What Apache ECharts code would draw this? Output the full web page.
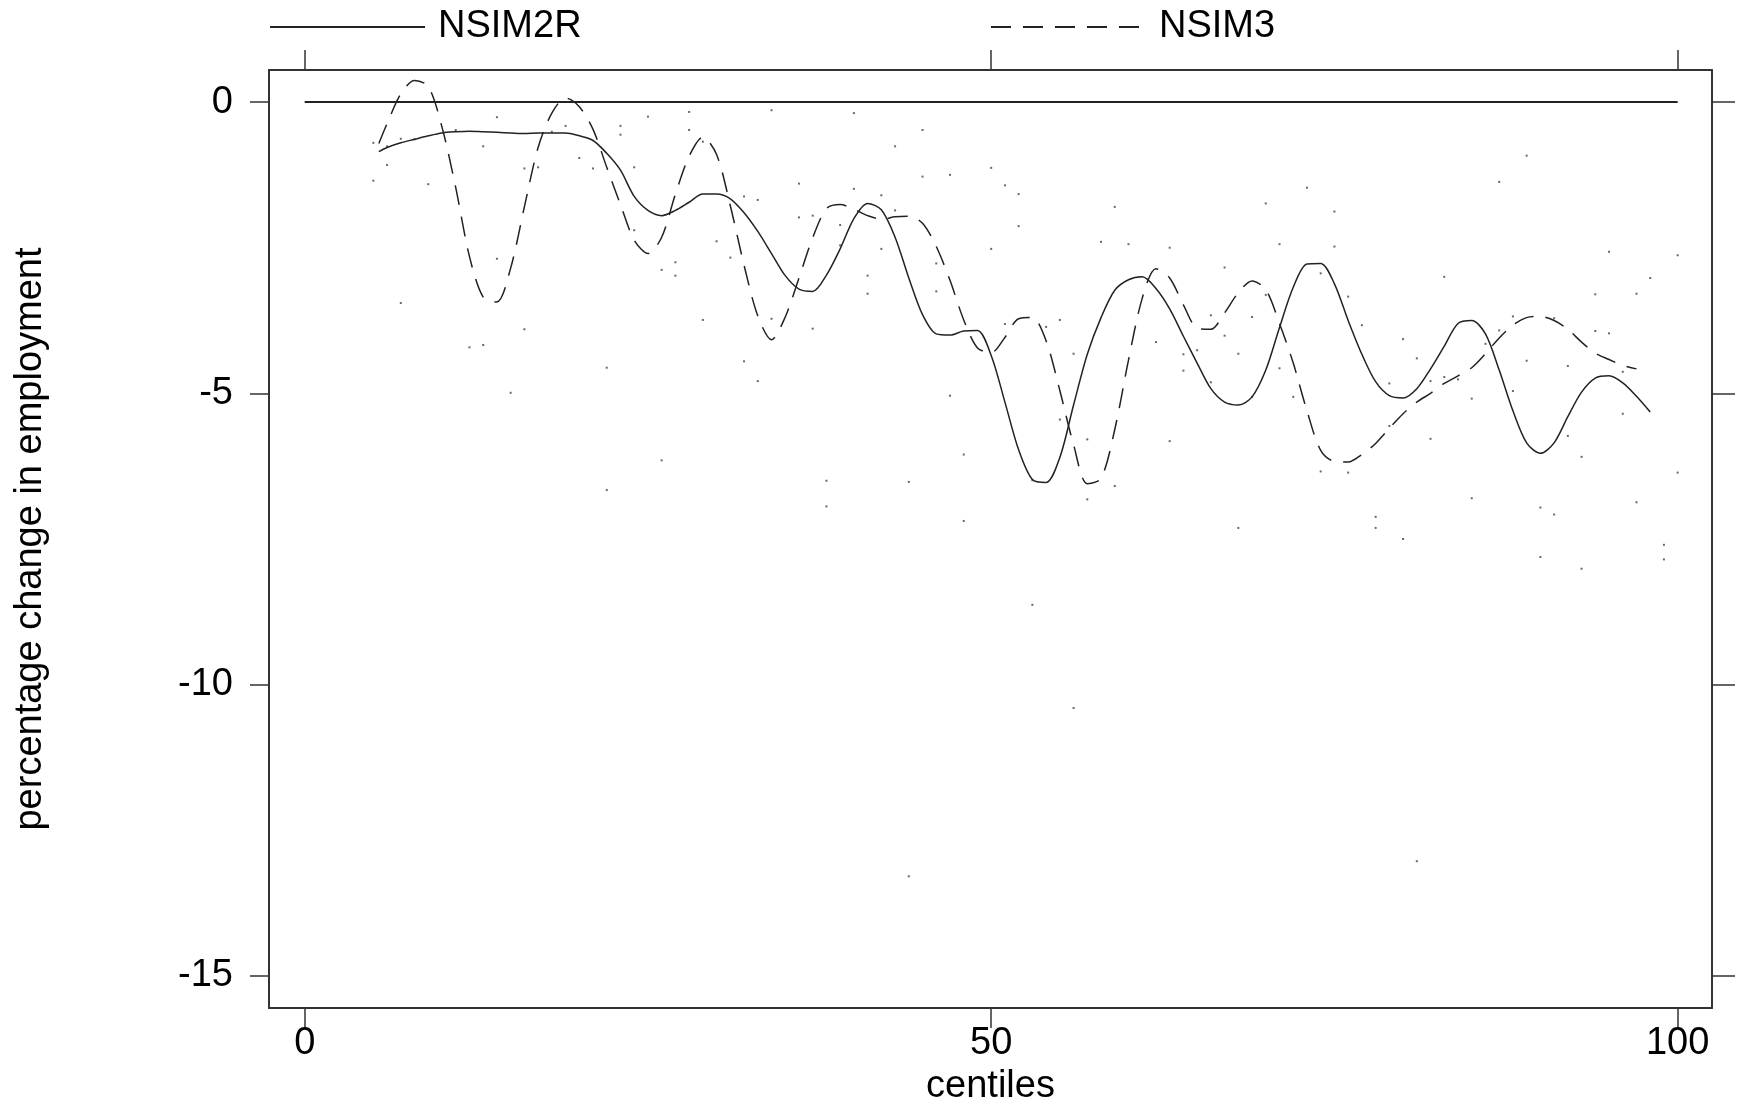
<!DOCTYPE html>
<html>
<head>
<meta charset="utf-8">
<script src="https://cdn.jsdelivr.net/npm/echarts@6/dist/echarts.min.js"></script>
<style>
  html, body { margin: 0; padding: 0; background: #fff; }
  #chart { width: 1738px; height: 1099px; }
</style>
</head>
<body>
<div id="chart"></div>
<script>
// centiles at which the two smoothed curves are read
const centiles = [5.4, 6, 7, 8, 9, 10, 11, 12, 13, 14, 15, 16, 17, 18, 19, 20, 21, 22, 23, 24, 25, 26, 27, 28, 29, 30,
  31, 32, 33, 34, 35, 36, 37, 38, 39, 40, 41, 42, 43, 44, 45, 46, 47, 48, 49, 50, 51, 52, 53, 54, 55, 56, 57, 58, 59, 60,
  61, 62, 63, 64, 65, 66, 67, 68, 69, 70, 71, 72, 73, 74, 75, 76, 77, 78, 79, 80, 81, 82, 83, 84, 85, 86, 87, 88, 89, 90,
  91, 92, 93, 94, 95, 96, 97, 98]

const nsim2r = [-0.85, -0.78, -0.70, -0.64, -0.58, -0.53, -0.51, -0.50, -0.51, -0.52, -0.53, -0.54, -0.53, -0.53, -0.53,
  -0.58, -0.66, -0.88, -1.17, -1.62, -1.86, -1.95, -1.86, -1.72, -1.58, -1.58, -1.66, -1.90, -2.22, -2.60, -2.98, -3.21,
  -3.25, -2.97, -2.52, -2.00, -1.74, -1.85, -2.32, -3.02, -3.65, -3.98, -4.00, -3.93, -3.92, -4.35, -5.15, -5.97, -6.48,
  -6.53, -6.10, -5.20, -4.33, -3.70, -3.23, -3.05, -3.00, -3.20, -3.55, -4.02, -4.48, -4.92, -5.15, -5.20, -5.06, -4.60,
  -3.87, -3.18, -2.78, -2.77, -3.12, -3.75, -4.33, -4.80, -5.04, -5.08, -4.92, -4.58, -4.19, -3.80, -3.75, -3.98, -4.60,
  -5.30, -5.85, -6.03, -5.85, -5.40, -4.98, -4.74, -4.70, -4.82, -5.05, -5.32]

const nsim3 = [-0.71, -0.37, 0.14, 0.37, 0.27, -0.43, -1.47, -2.65, -3.35, -3.43, -2.85, -1.80, -0.78, -0.19, 0.07,
  -0.08, -0.47, -1.12, -1.76, -2.37, -2.60, -2.32, -1.58, -0.93, -0.60, -0.90, -1.78, -2.80, -3.67, -4.08, -3.69, -3.02,
  -2.33, -1.83, -1.76, -1.84, -1.95, -2.01, -1.97, -1.96, -2.08, -2.48, -3.06, -3.74, -4.22, -4.30, -4.04, -3.72, -3.70,
  -4.10, -4.95, -5.88, -6.55, -6.46, -5.62, -4.43, -3.37, -2.86, -3.02, -3.48, -3.88, -3.90, -3.62, -3.27, -3.07, -3.22,
  -3.80, -4.48, -5.30, -5.98, -6.17, -6.18, -6.05, -5.86, -5.60, -5.35, -5.15, -5.00, -4.83, -4.70, -4.56, -4.32, -4.05,
  -3.83, -3.70, -3.68, -3.75, -3.90, -4.12, -4.31, -4.42, -4.52, -4.58, null]

// raw observations (small dots)
const dotCentiles = [5, 5, 6, 6, 7, 7, 8, 9, 11, 12, 13, 13, 14, 14, 15, 16, 16, 17, 18, 19, 20, 21, 22, 22, 23, 23,
  24, 24, 25, 26, 26, 27, 27, 28, 28, 29, 29, 30, 31, 32, 32, 33, 33, 34, 34, 36, 36, 37, 37, 38, 38, 39, 39, 40, 40,
  41, 41, 42, 42, 43, 43, 44, 44, 45, 45, 46, 46, 47, 47, 48, 48, 50, 50, 51, 51, 52, 52, 53, 53, 54, 55, 55, 56, 56,
  57, 57, 58, 59, 59, 60, 62, 63, 63, 64, 64, 65, 66, 66, 67, 67, 68, 68, 69, 69, 70, 70, 71, 71, 72, 73, 74, 74, 75,
  75, 76, 76, 77, 78, 78, 79, 79, 80, 80, 81, 81, 82, 82, 83, 83, 84, 85, 85, 86, 87, 87, 88, 88, 89, 89, 90, 90, 91,
  91, 92, 92, 93, 93, 94, 94, 95, 95, 96, 96, 97, 97, 98, 99, 99, 100, 100]
const dotValues = [-0.70, -1.35, -1.08, -0.76, -0.63, -3.45, -0.64, -1.41, -0.48, -4.21, -0.76, -4.17, -0.26, -2.69,
  -4.99, -1.14, -3.90, -1.12, -0.51, -0.41, -0.96, -1.14, -4.56, -6.66, -0.41, -0.56, -1.12, -2.20, -0.25, -2.88, -6.15,
  -2.75, -2.98, -0.17, -0.48, -0.68, -3.74, -2.39, -2.67, -1.62, -4.45, -1.68, -4.79, -0.14, -3.72, -1.40, -1.98, -1.95,
  -3.89, -6.50, -6.94, -2.11, -2.46, -0.19, -1.49, -2.98, -3.29, -1.60, -2.52, -0.76, -1.86, -6.52, -13.29, -0.48, -1.28,
  -2.77, -3.25, -1.25, -5.04, -6.05, -7.19, -1.13, -2.52, -1.43, -3.81, -1.58, -2.13, -6.49, -8.63, -3.86, -3.74, -5.45,
  -4.32, -10.40, -5.79, -6.82, -2.40, -1.80, -6.59, -2.44, -4.12, -2.50, -5.82, -4.33, -4.61, -4.26, -3.66, -4.81, -2.84,
  -4.01, -4.32, -7.31, -3.69, -5.06, -1.74, -3.31, -2.44, -4.57, -5.06, -1.47, -2.94, -6.34, -1.88, -2.48, -3.34, -6.36,
  -3.83, -7.12, -7.31, -4.83, -5.56, -4.07, -7.50, -4.40, -13.03, -4.79, -5.78, -3.00, -4.72, -4.76, -5.09, -6.80, -4.15,
  -1.37, -3.92, -3.68, -4.96, -0.92, -4.44, -6.96, -7.81, -3.71, -7.08, -4.53, -5.73, -6.09, -8.01, -3.30, -3.93, -2.57,
  -3.97, -4.63, -5.35, -3.29, -6.87, -3.02, -7.60, -7.85, -2.63, -6.36]

// reference line at zero change
const zeroLineX = [0, 100]
const zeroLineY = [0, 0]

const xTicks = [0, 50, 100]
const yTicks = [-15, -10, -5, 0]

const font = "'Liberation Sans', Arial, sans-serif"
const ink = '#222'

function pairs (xs, ys) {
  return xs.map((x, i) => [x, ys[i]])
}

const frameAxis = {
  axisLine: { show: true, onZero: false, lineStyle: { color: '#333', width: 2 } },
  splitLine: { show: false }
}

let chart = echarts.init(document.getElementById('chart'))
chart.setOption({
  animation: false,
  backgroundColor: '#fff',
  textStyle: { fontFamily: font },
  grid: { left: 269, right: 26, top: 70, bottom: 91, outerBoundsMode: 'none', containLabel: false },
  legend: [
    {
      left: 264, top: 3, data: ['NSIM2R'],
      itemWidth: 155, itemHeight: 14,
      itemStyle: { opacity: 0 },
      textStyle: { fontSize: 38, color: '#000', fontFamily: font, padding: [0, 0, 0, 8] }
    },
    {
      left: 985, top: 3, data: ['NSIM3'],
      itemWidth: 157, itemHeight: 14,
      itemStyle: { opacity: 0 },
      textStyle: { fontSize: 38, color: '#000', fontFamily: font, padding: [0, 0, 0, 6] }
    }
  ],
  xAxis: [
    Object.assign({
      type: 'value', position: 'bottom', min: -2.6, max: 102.5,
      name: 'centiles', nameLocation: 'middle', nameGap: 50,
      nameTextStyle: { fontSize: 38, color: '#000', fontFamily: font },
      axisTick: { show: true, length: 20, customValues: xTicks, lineStyle: { color: '#333', width: 1.5 } },
      axisLabel: { customValues: xTicks, fontSize: 38, color: '#000', margin: 17, fontFamily: font }
    }, frameAxis),
    Object.assign({
      type: 'value', position: 'top', min: -2.6, max: 102.5,
      axisTick: { show: true, length: 20, customValues: xTicks, lineStyle: { color: '#333', width: 1.5 } },
      axisLabel: { show: false }
    }, frameAxis)
  ],
  yAxis: [
    Object.assign({
      type: 'value', position: 'left', min: -15.55, max: 0.55,
      name: 'percentage change in employment', nameLocation: 'middle', nameGap: 219,
      nameTextStyle: { fontSize: 38, color: '#000', fontFamily: font },
      axisTick: { show: true, length: 19, customValues: yTicks, lineStyle: { color: '#333', width: 1.5 } },
      axisLabel: { customValues: yTicks, fontSize: 38, color: '#000', margin: 36, fontFamily: font }
    }, frameAxis),
    Object.assign({
      type: 'value', position: 'right', min: -15.55, max: 0.55,
      axisTick: { show: true, length: 23, customValues: yTicks, lineStyle: { color: '#333', width: 1.5 } },
      axisLabel: { show: false }
    }, frameAxis)
  ],
  series: [
    {
      name: 'dots', type: 'scatter', data: pairs(dotCentiles, dotValues),
      symbol: 'rect', symbolSize: 2, itemStyle: { color: '#444' }, silent: true
    },
    {
      name: 'zero', type: 'line', data: pairs(zeroLineX, zeroLineY),
      symbol: 'none', lineStyle: { color: ink, width: 2 }, silent: true
    },
    {
      name: 'NSIM2R', type: 'line', data: pairs(centiles, nsim2r),
      symbol: 'none', smooth: 0.3, lineStyle: { color: ink, width: 1.5, type: 'solid' }
    },
    {
      name: 'NSIM3', type: 'line', data: pairs(centiles, nsim3),
      symbol: 'none', smooth: 0.3, lineStyle: { color: ink, width: 1.5, type: [20, 12] }
    }
  ]
})
</script>
</body>
</html>
